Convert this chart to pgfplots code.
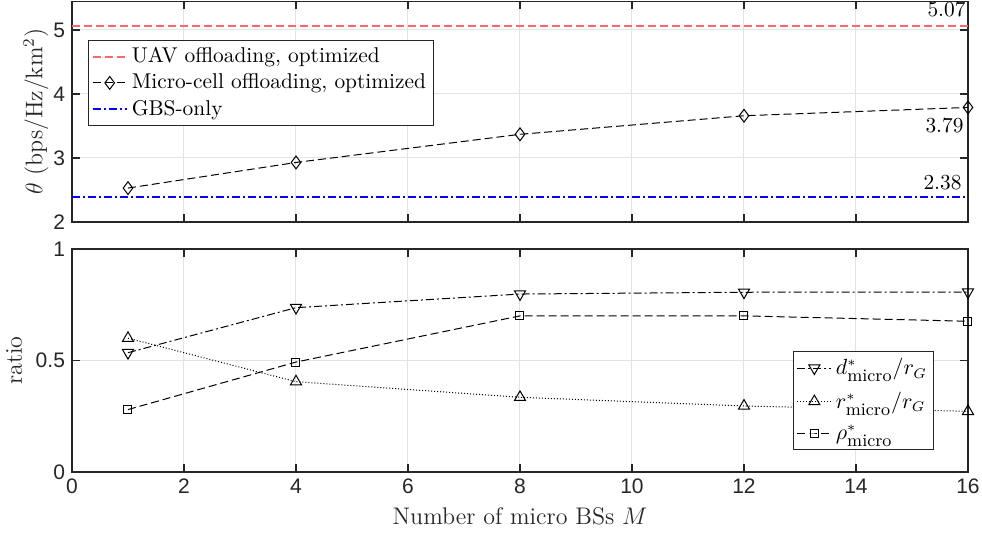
\documentclass[border=0pt]{standalone}
\usepackage{fontspec}
\usepackage{amsmath}
\usepackage{pgfplots}
\pgfplotsset{compat=1.18}
\newfontfamily\ticksf{Liberation Sans}
\definecolor{axgray}{gray}{0.15}
\definecolor{uavred}{rgb}{1,0.4,0.4}
\definecolor{gbsblue}{rgb}{0,0,1}
\newcommand{\mic}{\text{\fontsize{8.8}{9}\selectfont micro}}
\pgfplotsset{
  myax/.style={
    scale only axis, width=448pt,
    xmin=0, xmax=16, xtick={0,2,...,16},
    grid=major, grid style={gray!22, line width=0.5pt},
    axis line style={axgray, line width=0.6pt},
    major tick length=4pt,
    tick style={axgray, line width=0.6pt},
    tick align=inside,
    tick label style={font=\ticksf\fontsize{10.5}{12}\selectfont, text=axgray},
    /pgf/number format/assume math mode=true,
    label style={text=axgray, font=\fontsize{12}{14}\selectfont},
    legend cell align=left,
    legend style={draw=axgray, line width=0.5pt, fill=white, inner sep=1.5pt,
      font=\fontsize{10.7}{13}\selectfont, row sep=0pt},
  },
  dsh/.style={dash pattern=on 4pt off 2pt},
  dshdot/.style={dash pattern=on 4pt off 1.5pt on 1pt off 1.5pt},
  dt/.style={dash pattern=on 0.5pt off 1pt},
}
\begin{document}
\begin{tikzpicture}
% top axis
\begin{axis}[myax, at={(0,125pt)}, anchor=south west, height=110.4pt,
  ymin=2, ymax=5.45, ytick={2,3,4,5}, xticklabels={},
  ylabel={$\theta$ (bps/Hz/km$^2$)}, ylabel shift=-4.5pt,
  legend style={at={(0.018,0.824)}, anchor=north west}]
\addplot[color=uavred, dsh, line width=1pt] coordinates {(0,5.07) (16,5.07)};
\addlegendentry{UAV offloading, optimized}
\addplot[black, dsh, line width=0.5pt, mark=diamond, mark size=3.2pt,
  mark options={solid, fill=white}] coordinates {
  (1,2.53) (4,2.93) (8,3.37) (12,3.66) (16,3.79)};
\addlegendentry{Micro-cell offloading, optimized}
\addplot[color=gbsblue, dshdot, line width=1pt] coordinates {(0,2.385) (16,2.385)};
\addlegendentry{GBS-only}
\node[anchor=south east, inner sep=1pt, yshift=3pt, font=\fontsize{10.7}{13}\selectfont] at (axis cs:16,5.07) {5.07};
\node[anchor=north east, inner sep=1pt, yshift=-4pt, xshift=-1pt, font=\fontsize{10.7}{13}\selectfont] at (axis cs:16,3.79) {3.79};
\node[anchor=south east, inner sep=1pt, yshift=2.5pt, xshift=-2pt, font=\fontsize{10.7}{13}\selectfont] at (axis cs:16,2.385) {2.38};
\end{axis}
% bottom axis
\begin{axis}[myax, at={(0,0)}, anchor=south west, height=111.5pt,
  ymin=0, ymax=1, ytick={0,0.5,1},
  xlabel={Number of micro BSs $M$}, ylabel={ratio},
  legend style={at={(0.805,0.543)}, anchor=north west, row sep=3pt, inner sep=1.5pt}]
\addplot[black, dshdot, line width=0.5pt, mark=triangle, mark size=3.2pt,
  mark options={solid, rotate=180, fill=white}] coordinates {
  (1,0.535) (4,0.737) (8,0.798) (12,0.806) (16,0.807)};
\addlegendentry{$d^*_{\mic}/r_G$}
\addplot[black, dt, line width=0.5pt, mark=triangle, mark size=3.2pt,
  mark options={solid, fill=white}] coordinates {
  (1,0.60) (4,0.405) (8,0.335) (12,0.296) (16,0.272)};
\addlegendentry{$r^*_{\mic}/r_G$}
\addplot[black, dsh, line width=0.5pt, mark=square, mark size=2pt,
  mark options={solid, fill=white}] coordinates {
  (1,0.28) (4,0.493) (8,0.70) (12,0.70) (16,0.676)};
\addlegendentry{$\rho^*_{\mic}$}
\end{axis}
\pgfresetboundingbox
\path (-36pt,-31.5pt) rectangle (455pt,236pt);
\end{tikzpicture}
\end{document}
